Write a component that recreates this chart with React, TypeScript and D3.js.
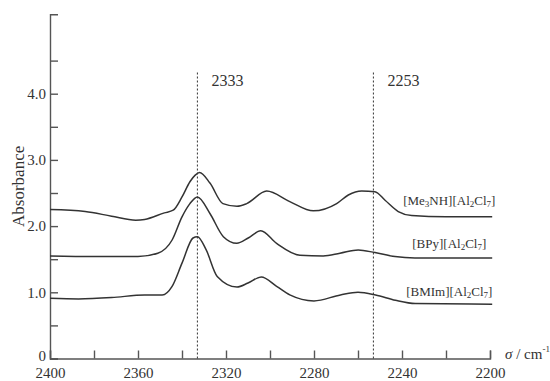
import {useEffect, useRef} from "react";
import * as d3 from "d3";

// spectra (wavenumber in cm-1, absorbance)
const me3nhSigma = [2400, 2384, 2372, 2361, 2357, 2348, 2344, 2340, 2336.4, 2334, 2332, 2327.3, 2321.4, 2315, 2310.6, 2301.5, 2291, 2280.3, 2269.7, 2264.4, 2258.3, 2252.3, 2247.7, 2241.7, 2235.6, 2220, 2199];
const me3nhAbs = [2.25, 2.22, 2.15, 2.09, 2.10, 2.20, 2.24, 2.44, 2.67, 2.77, 2.81, 2.65, 2.34, 2.30, 2.34, 2.53, 2.37, 2.23, 2.34, 2.47, 2.53, 2.52, 2.39, 2.22, 2.16, 2.14, 2.14];

const bpySigma = [2400, 2380, 2360, 2351, 2344.5, 2340, 2336.4, 2333, 2327.3, 2321.2, 2315.1, 2309.9, 2304.2, 2297, 2286.4, 2275.8, 2268.2, 2259.9, 2252.3, 2243.2, 2234.1, 2199];
const bpyAbs = [1.55, 1.54, 1.54, 1.59, 1.79, 2.14, 2.34, 2.44, 2.19, 1.84, 1.74, 1.82, 1.93, 1.74, 1.56, 1.55, 1.59, 1.64, 1.60, 1.54, 1.52, 1.52];

const bmimSigma = [2400, 2387, 2372, 2357, 2349, 2344.5, 2340, 2335, 2333, 2329, 2324, 2315, 2310, 2304, 2297, 2291, 2280, 2268, 2260, 2252, 2243, 2234, 2199];
const bmimAbs = [0.91, 0.90, 0.92, 0.96, 0.96, 1.09, 1.44, 1.82, 1.84, 1.64, 1.24, 1.08, 1.14, 1.23, 1.09, 0.96, 0.87, 0.96, 1.00, 0.96, 0.88, 0.83, 0.82];

// marked bands
const markers = [2333, 2253];

const xTicks = d3.range(2400, 2199, -20);
const yTicks = d3.range(0, 4.51, 0.5);

const FONT = "Liberation Serif";

const App = () => {
    const svgRef = useRef<SVGSVGElement>(null);

    useEffect(() => {
        const svg = d3.select(svgRef.current);
        svg.selectAll("*").remove();

        const ink = "#333";

        const x = d3.scaleLinear().domain([2400, 2200]).range([50, 490]);
        const y = d3.scaleLinear().domain([0, 4.5]).range([358.5, 60.6]);
        const yAx = y.copy().domain([0, 5.2]).range([y(0), y(5.2)]);

        // axes
        const gx = svg.append("g")
            .attr("transform", `translate(0,${y(0)})`)
            .call(d3.axisBottom(x)
                .tickValues(xTicks)
                .tickSize(-8)
                .tickSizeOuter(-8)
                .tickPadding(9)
                .tickFormat((d: any) => (d % 40 === 0 ? String(d) : "")));

        const gy = svg.append("g")
            .attr("transform", `translate(${x(2400)},0)`)
            .call(d3.axisLeft(yAx)
                .tickValues(yTicks)
                .tickSize(-8)
                .tickSizeOuter(-8)
                .tickPadding(4)
                .tickFormat((d: any) => (d === 0 ? "0" : d % 1 === 0 ? d.toFixed(1) : "")));

        [gx, gy].forEach(g => {
            g.attr("font-family", FONT).attr("font-size", 15);
            g.selectAll("path, line").attr("stroke", "#555").attr("stroke-width", 1.4);
            g.selectAll("text").attr("fill", ink);
        });
        // the zero label sits a little above the corner
        gy.selectAll("text").filter((d: any) => d === 0).attr("dy", "0.1em");

        // dotted marker lines
        markers.forEach(m => {
            svg.append("line")
                .attr("x1", x(m)).attr("x2", x(m))
                .attr("y1", y(0)).attr("y2", y(4.33))
                .attr("stroke", ink)
                .attr("stroke-width", 1)
                .attr("stroke-dasharray", "2,2");
            svg.append("text")
                .attr("x", x(m) + 14)
                .attr("y", y(4.33) + 14)
                .attr("fill", ink)
                .attr("font-family", FONT)
                .attr("font-size", 16)
                .text(String(m));
        });

        // spectra
        const line = d3.line<[number, number]>()
            .x(d => x(d[0]))
            .y(d => y(d[1]))
            .curve(d3.curveMonotoneX);

        const series = [
            {sigma: me3nhSigma, abs: me3nhAbs, parts: [["[Me", 0], ["3", 1], ["NH][Al", 0], ["2", 1], ["Cl", 0], ["7", 1], ["]", 0]], dy: -12},
            {sigma: bpySigma, abs: bpyAbs, parts: [["[BPy][Al", 0], ["2", 1], ["Cl", 0], ["7", 1], ["]", 0]], dy: -10},
            {sigma: bmimSigma, abs: bmimAbs, parts: [["[BMIm][Al", 0], ["2", 1], ["Cl", 0], ["7", 1], ["]", 0]], dy: -8}
        ];

        series.forEach(s => {
            const pts = s.sigma.map((v, i) => [v, s.abs[i]] as [number, number]);
            svg.append("path")
                .attr("d", line(pts))
                .attr("fill", "none")
                .attr("stroke", ink)
                .attr("stroke-width", 1.5);

            const t = svg.append("text")
                .attr("x", x(2218.5))
                .attr("y", y(s.abs[s.abs.length - 1]) + s.dy)
                .attr("text-anchor", "middle")
                .attr("fill", ink)
                .attr("font-family", FONT)
                .attr("font-size", 13);
            s.parts.forEach(([txt, sub]) => {
                const span = t.append("tspan").text(txt as string);
                if (sub) span.attr("font-size", 9).attr("baseline-shift", "-2");
            });
        });

        // axis titles
        svg.append("text")
            .attr("transform", `translate(24,${y(2.6)}) rotate(-90)`)
            .attr("text-anchor", "middle")
            .attr("fill", ink)
            .attr("font-family", FONT)
            .attr("font-size", 17)
            .text("Absorbance");

        const xt = svg.append("text")
            .attr("x", 505)
            .attr("y", y(0))
            .attr("fill", ink)
            .attr("font-family", FONT)
            .attr("font-size", 15);
        xt.append("tspan").attr("font-style", "italic").text("σ");
        xt.append("tspan").text(" / cm");
        xt.append("tspan").attr("font-size", 9).attr("baseline-shift", "7").text("-1");
    }, []);

    return (
        <svg ref={svgRef} width={550} height={381}
             style={{position: "absolute", left: 0, top: 0, background: "#fff"}} />
    );
};

export default App;
